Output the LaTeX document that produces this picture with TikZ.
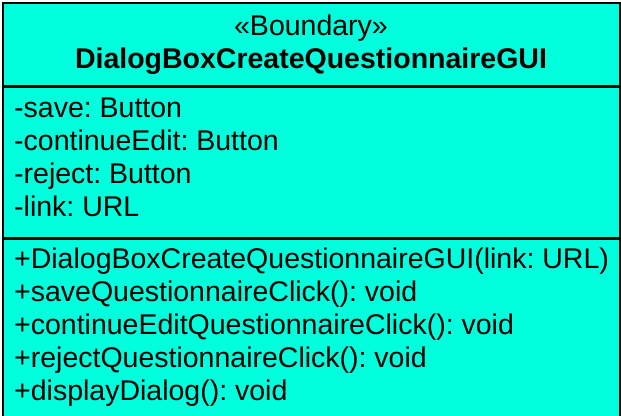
\documentclass[tikz,border=0pt]{standalone}
\usepackage{fontspec}
\setmainfont{Liberation Sans}
\frenchspacing
\definecolor{boundcol}{HTML}{00FFDD}
\tikzset{
  part/.style={draw, line width=1.5pt, fill=boundcol, minimum width=617pt, inner sep=0pt},
  member/.style={anchor=base west, inner sep=0pt, font=\fontsize{28.5}{32}\selectfont},
  title/.style={anchor=base, inner sep=0pt, font=\fontsize{28.5}{32}\selectfont}
}
\begin{document}
\begin{tikzpicture}[x=1pt, y=-1pt]
\useasboundingbox (0,0) rectangle (621,415);
\node[part, minimum height=83pt, anchor=north west] (head) at (2,2) {};
\node[part, minimum height=150pt, anchor=north west] (attrs) at (head.south west) {};
\node[part, minimum height=178pt, anchor=north west] (ops) at (attrs.south west) {};
\node[title] (stereo) at (311,35) {«Boundary»};
\node[title, font=\fontsize{28.5}{32}\bfseries] (name) at (311,68) {DialogBoxCreateQuestionnaireGUI};
\node[member] (a1) at (14,117) {-save: Button};
\node[member] (a2) at (14,150) {-continueEdit: Button};
\node[member] (a3) at (14,183) {-reject: Button};
\node[member] (a4) at (14,216) {-link: URL};
\node[member] (m1) at (14,268) {+DialogBoxCreateQuestionnaireGUI(link: URL)};
\node[member] (m2) at (14,301) {+saveQuestionnaireClick(): void};
\node[member] (m3) at (14,334) {+continueEditQuestionnaireClick(): void};
\node[member] (m4) at (14,367) {+rejectQuestionnaireClick(): void};
\node[member] (m5) at (14,400) {+displayDialog(): void};
\end{tikzpicture}
\end{document}
